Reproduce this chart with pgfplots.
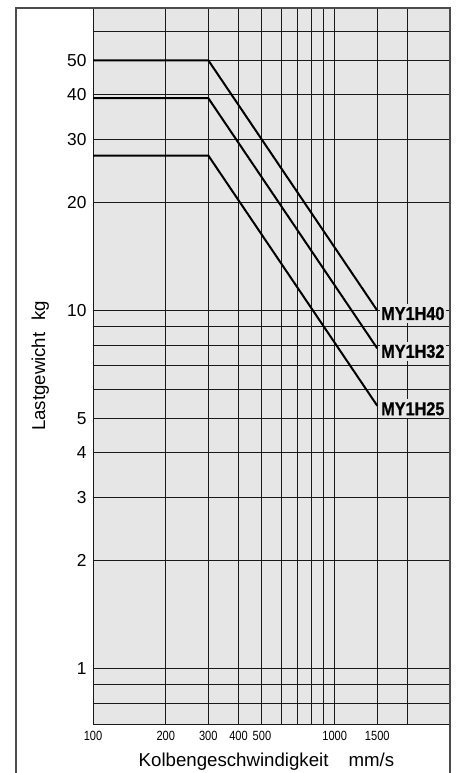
\documentclass[border=0pt]{standalone}
\usepackage{pgfplots}
\pgfplotsset{compat=1.18}
\usepackage{fontspec}
\setmainfont{Liberation Sans}
\newfontfamily\condfont[FakeStretch=0.83]{Liberation Sans}
\newfontfamily\condbold[FakeStretch=0.87,FakeBold=0.8]{Liberation Sans Bold}
\definecolor{bg}{HTML}{E6E6E6}
\begin{document}
\begin{tikzpicture}[x=0.75pt,y=0.75pt]
\coordinate (A) at (93,49);
\begin{axis}[
  at={(A)}, anchor=south west,
  scale only axis, width=267.75pt, height=537pt,
  xmode=log, ymode=log,
  xmin=100, xmax=3000, ymin=0.7, ymax=70,
  axis background/.style={fill=bg},
  xtick={100,200,300,400,500,600,700,800,900,1000,1500,2000},
  xticklabels={100,200,300,400,500,{},{},{},{},1000,1500,{}},
  ytick={0.8,0.9,1,2,3,4,5,6,7,8,9,10,20,30,40,50,60},
  yticklabels={{},{},1,2,3,4,5,{},{},{},{},10,20,30,40,50,{}},
  grid=major, grid style={black!90, line width=0.75pt},
  major tick length=0pt,
  axis line style={black!90, line width=0.75pt},
  clip=false,
  /pgf/number format/assume math mode=true,
  xticklabel style={font=\condfont\fontsize{10}{10}\selectfont, inner sep=0pt, anchor=north, yshift=-5.5pt},
  yticklabel style={font=\fontsize{13}{13}\selectfont, inner sep=0pt, anchor=east, xshift=-4.7pt},
]
\addplot[black, line width=1.5pt] coordinates {(100,50) (300,50) (1500,10)};
\addplot[black, line width=1.5pt] coordinates {(100,39.2) (300,39.2) (1500,7.84)};
\addplot[black, line width=1.5pt] coordinates {(100,27.1) (300,27.1) (1500,5.42)};
\node[anchor=west, fill=bg, inner xsep=0.8pt, inner ysep=2pt, xshift=2pt, yshift=-2.25pt, font=\condbold\fontsize{14}{14}\selectfont] at (axis cs:1500,10) {MY1H40};
\node[anchor=west, fill=bg, inner xsep=0.8pt, inner ysep=2pt, xshift=2pt, yshift=-2.25pt, font=\condbold\fontsize{14}{14}\selectfont] at (axis cs:1500,7.84) {MY1H32};
\node[anchor=west, fill=bg, inner xsep=0.8pt, inner ysep=2pt, xshift=2pt, yshift=-2.25pt, font=\condbold\fontsize{14}{14}\selectfont] at (axis cs:1500,5.42) {MY1H25};
\end{axis}
\draw[black!70, line width=1.2pt] (16,-5) -- (16,765) -- (450,765) -- (450,-5);
\node[anchor=base, font=\fontsize{14}{14}\selectfont] at (266.5,6.3) {Kolbengeschwindigkeit\hspace{0.8em} mm/s};
\node[anchor=base, rotate=90, font=\fontsize{14}{14}\selectfont] at (45,407) {Lastgewicht\hspace{0.35em} kg};
\pgfresetboundingbox
\path[use as bounding box] (0,0) rectangle (458,773);
\end{tikzpicture}
\end{document}
